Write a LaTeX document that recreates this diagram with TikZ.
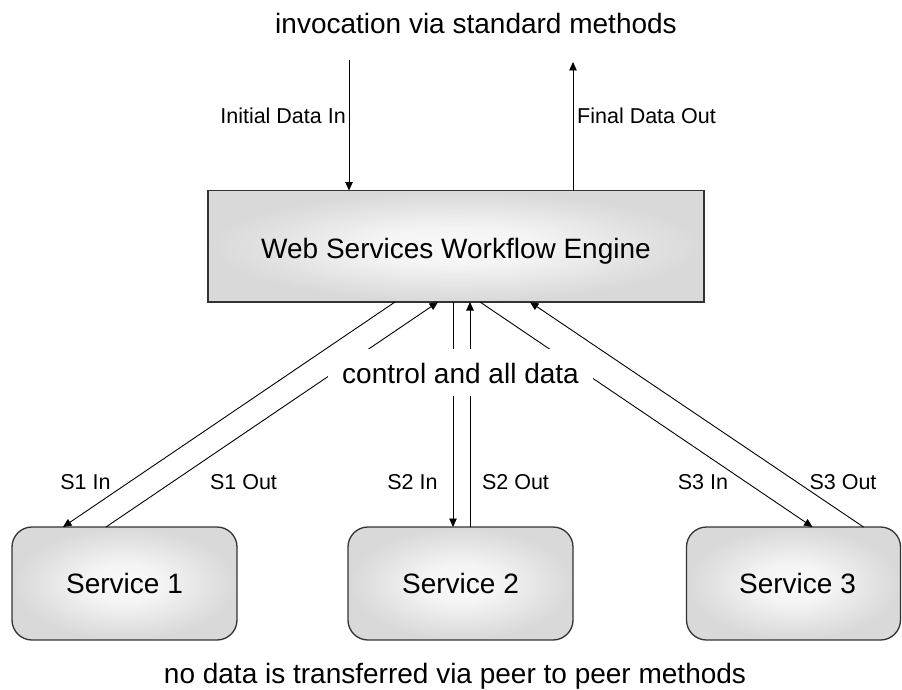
\documentclass[tikz,border=0pt]{standalone}
\usepackage{fontspec}
\setmainfont{Liberation Sans}
\usetikzlibrary{arrows.meta,calc}
\pgfdeclareradialshading{soft}{\pgfpoint{0bp}{0bp}}{color(0bp)=(black!3); color(8bp)=(black!4); color(20bp)=(black!12); color(25bp)=(black!15); color(50bp)=(black!15)}
\begin{document}
\begin{tikzpicture}[x=1pt,y=-1pt,
  box/.style={draw=black!80, line width=1.3pt, shading=soft, inner sep=0pt, outer sep=0pt},
  big/.style={font=\fontsize{28}{32}\selectfont},
  small/.style={font=\fontsize{21.5}{25}\selectfont},
  arr/.style={draw=black, line width=0.9pt, -{Triangle[length=8.5pt,width=7.5pt]}},
  lbl/.style={small, inner sep=0pt}]
\path[fill=white] (0,0) rectangle (902,690);
\useasboundingbox (0,0) rectangle (902,690);

% nodes
\node[box, minimum width=496pt, minimum height=111.5pt, big, text height=24pt, text depth=0.5pt] (eng) at (456,246.25) {Web Services Workflow Engine};
\node[box, rounded corners=20pt, minimum width=225pt, minimum height=113pt, big, text height=20pt, text depth=0pt] (s1) at (124.5,583.5) {Service 1};
\node[box, rounded corners=20pt, minimum width=225pt, minimum height=113pt, big, text height=20pt, text depth=0pt] (s2) at (460.5,583.5) {Service 2};
\node[box, rounded corners=20pt, minimum width=214pt, minimum height=113pt, big, text height=20pt, text depth=0pt] (s3) at (793.5,583.5) {\hspace*{8pt}Service 3};

\coordinate (inTop) at (349,60);
\coordinate (outTop) at (573,62);

% top connectors
\draw[arr] (inTop) -- ($(eng.north west)+(141,0)$);
\draw[arr] ($(eng.north west)+(365,0)$) -- (outTop);

% bottom connectors
\draw[arr] ($(eng.south west)+(187,0)$) -- ($(s1.north west)+(51,0)$);
\draw[arr] ($(s1.north west)+(94,0)$) -- ($(eng.south west)+(230,0)$);
\draw[arr] ($(eng.south west)+(245,0)$) -- ($(s2.north west)+(105,0)$);
\draw[arr] ($(s2.north west)+(122,0)$) -- ($(eng.south west)+(262,0)$);
\draw[arr] ($(eng.south west)+(272,0)$) -- ($(s3.north west)+(126,0)$);
\draw[arr] ($(s3.north west)+(177,0)$) -- ($(eng.south west)+(322,0)$);

% middle label covering lines
\node[fill=white, minimum width=265pt, minimum height=47pt, inner sep=0pt, big, text height=21pt, text depth=0pt] (ctl) at (460.5,372.5) {control and all data};

% labels
\node[lbl, anchor=base east] (lin) at (346,124) {Initial Data In};
\node[lbl, anchor=base west] (lout) at (577,124) {Final Data Out};
\node[lbl, anchor=base] (l1i) at (85.5,489) {S1 In};
\node[lbl, anchor=base] (l1o) at (243.5,489) {S1 Out};
\node[lbl, anchor=base] (l2i) at (412.5,489) {S2 In};
\node[lbl, anchor=base] (l2o) at (515.5,489) {S2 Out};
\node[lbl, anchor=base] (l3i) at (703,489) {S3 In};
\node[lbl, anchor=base] (l3o) at (843,489) {S3 Out};

\node[big, anchor=base, inner sep=0pt] (top) at (476,34) {invocation via standard methods};
\node[big, anchor=base, inner sep=0pt] (bot) at (455,683) {no data is transferred via peer to peer methods};
\end{tikzpicture}
\end{document}
